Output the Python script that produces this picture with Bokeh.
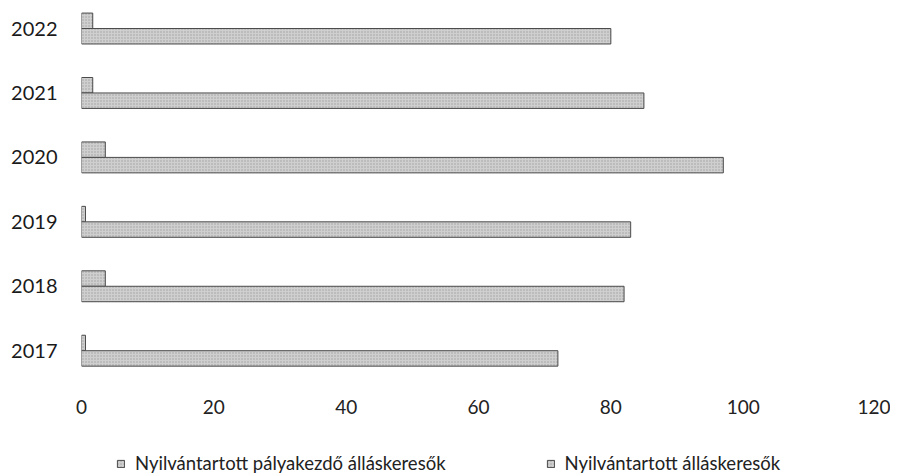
from bokeh.plotting import figure
from bokeh.layouts import column
from bokeh.models import ColumnDataSource, FixedTicker, Legend, LegendItem
from bokeh.transform import dodge
from bokeh.embed import file_html
from bokeh.resources import INLINE

years = ["2017", "2018", "2019", "2020", "2021", "2022"]
palyakezdo = [0.6, 3.6, 0.6, 3.6, 1.7, 1.7]
osszes = [72, 82, 83, 97, 85, 80]
x_ticks = [0, 20, 40, 60, 80, 100, 120]
series_names = ["Nyilvántartott pályakezdő álláskeresők", "Nyilvántartott álláskeresők"]

pos = list(range(len(years)))
src = ColumnDataSource(dict(y=pos, year=years, a=palyakezdo, b=osszes))

fill = "#cfcfcf"
edge = "#4a4a4a"
bar_style = dict(fill_color=fill, line_color=edge, line_width=1,
                 hatch_pattern="dot", hatch_color="#a0a0a0", hatch_scale=3, hatch_weight=1)

p = figure(width=890, height=447, x_range=(0, 120), y_range=(-0.54, 5.435),
           output_backend="svg", toolbar_location=None,
           min_border_left=81, min_border_right=15, min_border_top=0, min_border_bottom=62)

p.hbar(y=dodge("y", 0.12), right="a", left=0, height=0.24, source=src, **bar_style)
p.hbar(y=dodge("y", -0.12), right="b", left=0, height=0.24, source=src, **bar_style)

p.grid.visible = False
p.outline_line_color = None

p.xaxis.ticker = FixedTicker(ticks=x_ticks)
p.xaxis.axis_line_color = None
p.xaxis.major_tick_line_color = None
p.xaxis.minor_tick_line_color = None
p.xaxis.major_tick_out = 0
p.xaxis.major_label_standoff = 14
p.xaxis.major_label_text_font = "Lato"
p.xaxis.major_label_text_font_size = "19px"
p.xaxis.major_label_text_color = "#222222"

p.yaxis.ticker = FixedTicker(ticks=pos)
p.yaxis.major_label_overrides = {i: y for i, y in zip(pos, years)}
p.yaxis.axis_line_color = None
p.yaxis.major_tick_line_color = None
p.yaxis.minor_tick_line_color = None
p.yaxis.major_tick_out = 0
p.yaxis.major_label_standoff = 24
p.yaxis.major_label_text_font = "Lato"
p.yaxis.major_label_text_font_size = "20px"
p.yaxis.major_label_text_color = "#1a1a1a"

# legend strip (proxy renderers use the same data, but lie outside this strip's ranges)
lg = figure(width=890, height=28, x_range=(0, 1), y_range=(100, 101),
            output_backend="svg", toolbar_location=None,
            x_axis_type=None, y_axis_type=None,
            min_border_left=0, min_border_right=0, min_border_top=0, min_border_bottom=0)
lg.grid.visible = False
lg.outline_line_color = None
g1 = lg.hbar(y="y", right="a", left=0, height=0.24, source=src, **bar_style)
g2 = lg.hbar(y="y", right="b", left=0, height=0.24, source=src, **bar_style)
legend = Legend(items=[LegendItem(label=series_names[0], renderers=[g1]),
                       LegendItem(label=series_names[1], renderers=[g2])],
                orientation="horizontal", location=(35, 1),
                glyph_width=9, glyph_height=9, label_standoff=10, spacing=100,
                padding=2, margin=0, border_line_color=None, background_fill_alpha=0,
                label_text_font="Lato", label_text_font_size="18.5px",
                label_text_color="#222222")
lg.add_layout(legend, "center")

layout = column(p, lg, spacing=0)
open("out.html", "w").write(file_html(layout, INLINE))
